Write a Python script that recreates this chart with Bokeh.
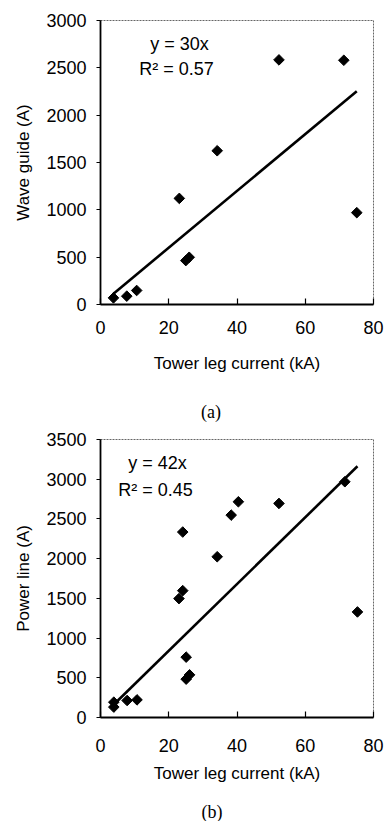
import math
from bokeh.plotting import figure
from bokeh.models import Label, FixedTicker, Range1d, Div
from bokeh.layouts import column
from bokeh.embed import file_html
from bokeh.resources import INLINE

# Panel (a): wave guide current vs tower leg current
x_a = [3.8, 7.7, 10.6, 23.1, 25.0, 26.0, 34.2, 52.3, 71.3, 75.1]
y_a = [70, 88, 148, 1121, 464, 499, 1624, 2584, 2580, 970]
slope_a = 30
r2_a = 0.57

# Panel (b): power line current vs tower leg current
x_b = [3.9, 3.9, 7.8, 10.7, 23.0, 24.1, 24.1, 25.1, 25.1, 26.1, 34.2, 38.3, 40.4, 52.3, 71.6, 75.3]
y_b = [131, 193, 214, 222, 1497, 1597, 2335, 760, 483, 537, 2024, 2548, 2716, 2695, 2968, 1329]
slope_b = 42
r2_b = 0.45

x_ticks = [0, 20, 40, 60, 80]
y_ticks_a = [0, 500, 1000, 1500, 2000, 2500, 3000]
y_ticks_b = [0, 500, 1000, 1500, 2000, 2500, 3000, 3500]

x_title = "Tower leg current (kA)"
y_title_a = "Wave guide (A)"
y_title_b = "Power line (A)"

FONT = "Liberation Sans"


def make_panel(xs, ys, slope, r2, y_ticks, y_title,
               height, border_top, border_bottom, border_right,
               eq_pos, r2_pos, label_standoff, title_standoff):
    p = figure(width=387, height=height, output_backend="svg", toolbar_location=None,
               x_range=Range1d(0, 80), y_range=Range1d(0, y_ticks[-1]),
               min_border_left=100, min_border_right=border_right,
               min_border_top=border_top, min_border_bottom=border_bottom)
    p.background_fill_color = "white"
    p.border_fill_color = "white"
    p.grid.visible = False
    p.outline_line_color = "#666666"
    p.outline_line_width = 1
    p.outline_line_dash = "2 1"

    for ax in (p.xaxis[0], p.yaxis[0]):
        ax.axis_line_color = "black"
        ax.axis_line_width = 1.8
        ax.major_tick_line_color = "black"
        ax.major_tick_line_width = 1.2
        ax.minor_tick_line_color = None
        ax.major_label_text_font = FONT
        ax.major_label_text_font_size = "18px"
        ax.major_label_text_color = "black"
        ax.axis_label_text_font = FONT
        ax.axis_label_text_font_size = "17px"
        ax.axis_label_text_font_style = "normal"
        ax.axis_label_text_color = "black"

    p.xaxis.ticker = FixedTicker(ticks=x_ticks)
    p.xaxis.major_tick_in = 6
    p.xaxis.major_tick_out = 0
    p.xaxis.major_label_standoff = label_standoff
    p.xaxis.axis_label = x_title
    p.xaxis.axis_label_standoff = title_standoff

    p.yaxis.ticker = FixedTicker(ticks=y_ticks)
    p.yaxis.major_tick_in = 0
    p.yaxis.major_tick_out = 4
    p.yaxis.major_label_standoff = 10
    p.yaxis.axis_label = y_title
    p.yaxis.axis_label_standoff = 10

    # trend line y = slope * x over the data span
    lx = [min(xs), max(xs)]
    ly = [slope * v for v in lx]
    p.line(lx, ly, line_color="black", line_width=2.6)

    p.scatter(xs, ys, marker="square", size=7.5, angle=math.pi / 4,
              fill_color="black", line_color="black")

    p.add_layout(Label(x=eq_pos[0], y=eq_pos[1], x_units="screen", y_units="screen",
                       text=f"y = {slope}x", text_align="center", text_baseline="middle",
                       text_font=FONT, text_font_size="18px", text_color="black"))
    p.add_layout(Label(x=r2_pos[0], y=r2_pos[1], x_units="screen", y_units="screen",
                       text=f"R² = {r2:.2f}", text_align="center", text_baseline="middle",
                       text_font=FONT, text_font_size="18px", text_color="black"))
    return p


def caption(text, height, pad_left, pad_top):
    html = (f'<div style="width:387px;height:{height}px;box-sizing:border-box;'
            f'padding-left:{pad_left}px;padding-top:{pad_top}px;text-align:center;'
            f'font-family:\'Liberation Serif\',serif;font-size:18px;line-height:18px;'
            f'color:black;">{text}</div>')
    return Div(text=html, width=387, height=height, margin=0)


p_a = make_panel(x_a, y_a, slope_a, r2_a, y_ticks_a, y_title_a,
                 height=380, border_top=20, border_bottom=76, border_right=9,
                 eq_pos=(79, 261), r2_pos=(76, 236),
                 label_standoff=16, title_standoff=17)
cap_a = caption("(a)", 48, 35, 23)
p_b = make_panel(x_b, y_b, slope_b, r2_b, y_ticks_b, y_title_b,
                 height=357, border_top=11, border_bottom=67, border_right=14,
                 eq_pos=(57, 255), r2_pos=(55, 228),
                 label_standoff=21, title_standoff=9)
cap_b = caption("(b)", 35, 37, 18)

layout = column(p_a, cap_a, p_b, cap_b, spacing=0)
open("out.html", "w").write(file_html(layout, INLINE))
